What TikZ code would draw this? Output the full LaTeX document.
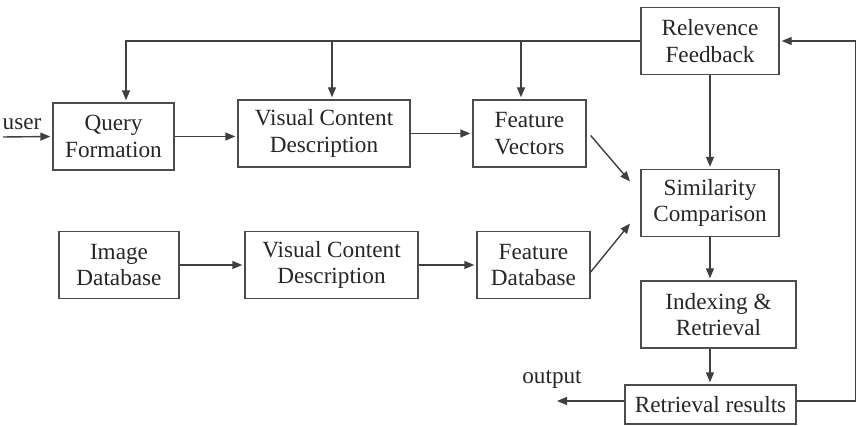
\documentclass[tikz,border=0pt]{standalone}
\usepackage{fontspec}
\setmainfont{Liberation Serif}
\usetikzlibrary{arrows.meta, positioning}

\begin{document}
\begin{tikzpicture}[
        x=0.5pt, y=-0.5pt,
        font=\fontsize{11.6}{13.3}\selectfont,
        box/.style={draw=black!70, line width=0.7pt, align=center, minimum height=33.5pt, inner sep=2pt, text=black!85},
        ar/.style={-{Triangle[length=5pt, width=4pt]}, line width=0.7pt, draw=black!75, shorten >=1pt}
    ]
        \useasboundingbox (0,0) rectangle (864,426);

        % query side
        \node[box, minimum width=60.5pt] (query)  at (113.5,136.5) {Query\\Formation};
        \node[box, minimum width=86pt]   (vcdA)   at (324,133.5)   {Visual Content\\Description};
        \node[box, minimum width=56.5pt] (vectors) at (529.5,133.5) {Feature\\Vectors};

        % database side
        \node[box, minimum width=60pt]   (imgdb)  at (119,265)     {Image\\Database};
        \node[box, minimum width=86.5pt] (vcdB)   at (331.5,265)   {Visual Content\\Description};
        \node[box, minimum width=56.5pt] (featdb) at (533.5,265)   {Feature\\Database};

        % right column
        \node[box, minimum width=69pt]   (feedback)   at (710,41)    {Relevence\\Feedback};
        \node[box, minimum width=69pt]   (similarity) at (710,203)   {Similarity\\Comparison};
        \node[box, minimum width=77.5pt] (index)      at (718.5,314.5) {Indexing \&\\Retrieval};
        \node[box, minimum width=85.5pt, minimum height=19.5pt] (results) at (710.5,404.5) {Retrieval results};

        \node[text=black!85] (userlbl) at (22,124)  {user};
        \node[text=black!85] (outlbl)  at (552,379) {output};
        \coordinate (userin) at (3,137);
        \coordinate (userout) at (555,401);
        \coordinate (tapA) at (332,41);
        \coordinate (tapB) at (521,41);

        \foreach \a/\b in {query/vcdA, vcdA/vectors, imgdb/vcdB, vcdB/featdb}{\draw[ar] (\a.south east |- \a.east) -- (\a.east -| \b.west);}
        \foreach \a/\b in {feedback/similarity, similarity/index, index/results}{\draw[ar] (\a.south -| similarity.south) -- (similarity.south |- \b.north);}

        \draw[ar] (userin) -- (query.west);
        \draw[ar] (feedback.west) -| ([xshift=6.25pt]query.north);
        \draw[ar] (tapA) -- (tapA |- vcdA.north);
        \draw[ar] (tapB) -- (tapB |- vectors.north);

        \draw[ar] ([xshift=2pt,yshift=-1pt]vectors.east) -- ([xshift=-4.5pt,yshift=10pt]similarity.west);
        \draw[ar] ([xshift=0pt,yshift=-3.5pt]featdb.east) -- ([xshift=-4.5pt,yshift=-9.5pt]similarity.west);

        \draw[ar] ([yshift=1.75pt]results.west) -- (userout);
        \draw[ar] ([yshift=1.75pt]results.east) -- ++(59,0) |- (feedback.east);
    \end{tikzpicture}
\end{document}
